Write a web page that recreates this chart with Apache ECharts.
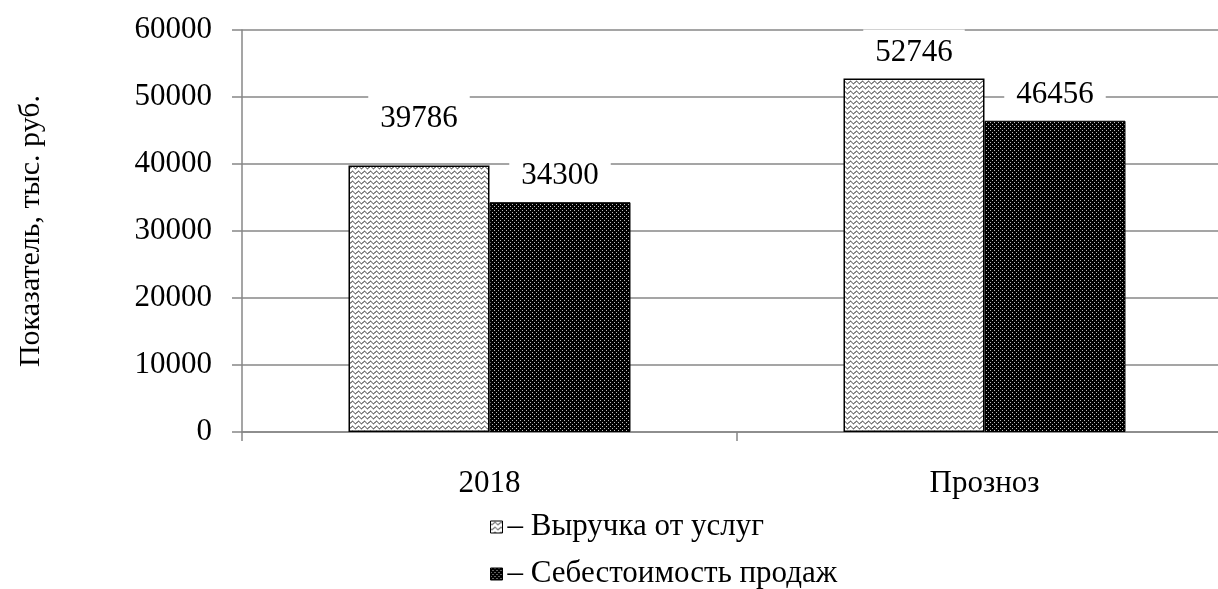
<!DOCTYPE html>
<html>
<head>
<meta charset="utf-8">
<script src="https://cdn.jsdelivr.net/npm/echarts@6/dist/echarts.min.js"></script>
<style>
  html, body { margin: 0; padding: 0; background: #fff; }
  #chart { width: 1218px; height: 589px; }
</style>
</head>
<body>
<div id="chart"></div>
<script>
// данные диаграммы
const categories = ['2018', 'Прозноз']
const seriesNames = ['Выручка от услуг', 'Себестоимость продаж']
const revenue = [39786, 52746]
const cost = [34300, 46456]
const yTicks = [0, 10000, 20000, 30000, 40000, 50000, 60000]

const FONT = '"Liberation Serif", "DejaVu Serif", serif'

// волнистая штриховка (светлый столбец)
const makeWave = () => {
  const c = document.createElement('canvas')
  c.width = 6; c.height = 5
  const ctx = c.getContext('2d')
  ctx.fillStyle = '#fff'
  ctx.fillRect(0, 0, 6, 5)
  ctx.strokeStyle = '#111'
  ctx.lineWidth = 1
  ctx.beginPath()
  for (let x = 0; x <= 6; x += 0.5) {
    const y = 2.5 + 1.3 * Math.sin(x / 6 * Math.PI * 2)
    x === 0 ? ctx.moveTo(x, y) : ctx.lineTo(x, y)
  }
  ctx.stroke()
  return c
}

// точечная штриховка (тёмный столбец)
const makeDots = () => {
  const c = document.createElement('canvas')
  c.width = 4; c.height = 4
  const ctx = c.getContext('2d')
  ctx.fillStyle = '#000'
  ctx.fillRect(0, 0, 4, 4)
  ctx.fillStyle = '#bdbdbd'
  ctx.fillRect(0, 0, 1, 1)
  ctx.fillRect(2, 2, 1, 1)
  return c
}

const wave = { image: makeWave(), repeat: 'repeat' }
const dots = { image: makeDots(), repeat: 'repeat' }

const chart = echarts.init(document.getElementById('chart'))

const labelStyle = {
  show: true,
  position: 'top',
  distance: 3,
  fontFamily: FONT,
  fontSize: 31,
  color: '#000',
  backgroundColor: '#fff',
  padding: [8, 12],
  lineHeight: 30
}

// первая подпись в оригинале поднята выше
const revenueData = revenue.map((v, i) => (i === 0 ? { value: v, label: { offset: [0, -21] } } : v))

// легенда — по одной строке на ряд
const legendRow = (name, top) => ({
  orient: 'vertical',
  left: 490,
  top: top,
  padding: 0,
  itemWidth: 12,
  itemHeight: 12,
  icon: 'rect',
  formatter: '– {name}',
  textStyle: { fontFamily: FONT, fontSize: 31, lineHeight: 32, color: '#000' },
  itemStyle: { borderColor: '#000', borderWidth: 1 },
  data: [name]
})

const option = {
  animation: false,
  grid: { left: 242, right: -14, top: 30, bottom: 157, outerBoundsMode: 'none', containLabel: false },
  legend: [legendRow(seriesNames[0], 511), legendRow(seriesNames[1], 558)],
  xAxis: {
    type: 'category',
    data: categories,
    axisLine: { lineStyle: { color: '#878787', width: 1.5 } },
    axisTick: { show: true, length: 9, lineStyle: { color: '#878787', width: 1.5 } },
    axisLabel: { fontFamily: FONT, fontSize: 31, color: '#000', margin: 36 }
  },
  yAxis: {
    type: 'value',
    min: yTicks[0],
    max: yTicks[yTicks.length - 1],
    interval: yTicks[1] - yTicks[0],
    name: 'Показатель, тыс. руб.',
    nameLocation: 'middle',
    nameGap: 196,
    nameRotate: 90,
    nameTextStyle: { fontFamily: FONT, fontSize: 30, color: '#000' },
    axisLine: { show: true, lineStyle: { color: '#878787', width: 1.5 } },
    axisTick: { show: true, length: 10, lineStyle: { color: '#878787', width: 1.5 } },
    axisLabel: { fontFamily: FONT, fontSize: 31, color: '#000', margin: 30, formatter: v => String(v) },
    splitLine: { lineStyle: { color: '#878787', width: 1.5 } }
  },
  series: [
    {
      name: seriesNames[0],
      type: 'bar',
      data: revenueData,
      barWidth: 141,
      barGap: 0,
      itemStyle: { color: wave, borderColor: '#000', borderWidth: 1.5 },
      label: labelStyle
    },
    {
      name: seriesNames[1],
      type: 'bar',
      data: cost,
      barWidth: 141,
      barGap: 0,
      itemStyle: { color: dots, borderColor: '#000', borderWidth: 1 },
      label: labelStyle
    }
  ]
}

chart.setOption(option)
</script>
</body>
</html>
